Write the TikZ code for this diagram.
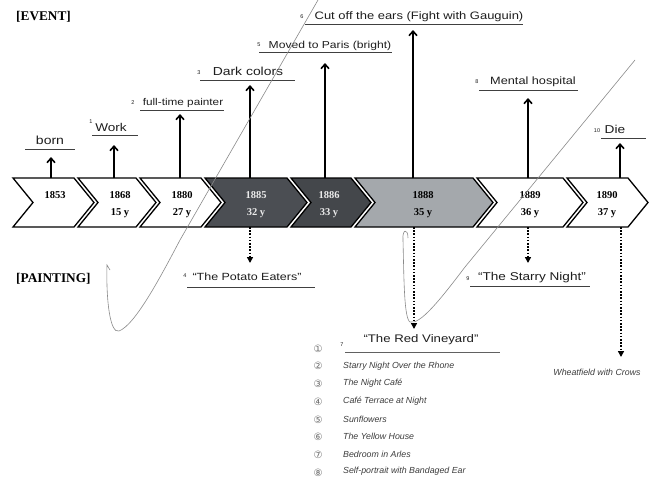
\documentclass[tikz,border=0pt]{standalone}
\usepackage{fontspec}
\usetikzlibrary{arrows.meta}
\newfontfamily\handf[FakeStretch=1.2]{Liberation Sans}
\newfontfamily\listfont{Liberation Sans}
\newfontfamily\serifb{Liberation Serif}
\newfontfamily\symf{DejaVu Sans}
\definecolor{darkA}{HTML}{4B4E53}
\definecolor{darkB}{HTML}{44474B}
\definecolor{greyC}{HTML}{A4A8AC}
\definecolor{inkc}{HTML}{1E1E1E}
\definecolor{listc}{HTML}{3C3C3C}
\definecolor{pencil}{HTML}{8A8A8A}
\tikzset{
  chevbox/.style={draw=black, line width=1.3pt, line join=miter},
  yearlbl/.style={font=\serifb\bfseries\fontsize{10.5}{11}\selectfont, inner sep=0pt},
  uparrow/.style={line width=1.6pt, -{Straight Barb[length=4.5pt,width=8pt,line width=1.6pt]}},
  downarrow/.style={line width=2pt, dash pattern=on 1.6pt off 1.6pt, -{Triangle[length=6pt,width=6pt]}},
  uline/.style={line width=1pt, draw=inkc!85},
  hand/.style={text=inkc, inner sep=0pt, anchor=base},
  tiny/.style={font=\listfont\fontsize{5.5}{6}\selectfont, text=inkc, inner sep=0pt},
  listitem/.style={font=\listfont\itshape\fontsize{8.8}{9}\selectfont, text=listc, inner sep=0pt, anchor=west},
  circnum/.style={font=\symf\fontsize{10}{10}\selectfont, text=listc!75, inner sep=0pt},
  heading/.style={font=\serifb\bfseries\fontsize{13.3}{14}\selectfont, inner sep=0pt, anchor=west},
  scribble/.style={draw=pencil, line width=0.6pt}
}
\newcommand\mychev[3]{%
  \draw[chevbox, fill=#3] (#1,178) -- (#2,178) -- ({#2+20},202.5) -- (#2,227) -- (#1,227) -- ({#1+20},202.5) -- cycle;}
\newcommand\hs[1]{\handf\fontsize{#1}{#1}\selectfont}
\begin{document}
\begin{tikzpicture}[x=1pt,y=-1pt]
\useasboundingbox (0,0) rectangle (659,480);
\fill[white] (0,0) rectangle (659,480);

% headings
\node[heading] (hev) at (16,17) {[EVENT]};
\node[heading] (hpa) at (16,279) {[PAINTING]};

% chevrons
\mychev{13}{74}{white}
\mychev{78}{136}{white}
\mychev{140}{201}{white}
\mychev{205}{287}{darkA}
\mychev{291}{351}{darkB}
\mychev{355}{473}{greyC}
\mychev{477}{563}{white}
\mychev{567}{628}{white}

% year labels
\node[yearlbl] (y1) at (55,195) {1853};
\node[yearlbl] (y2) at (120,195) {1868};
\node[yearlbl] (a2) at (120,213) {15 y};
\node[yearlbl] (y3) at (182,195) {1880};
\node[yearlbl] (a3) at (182,213) {27 y};
\node[yearlbl, text=white!92!black] (y4) at (256,195) {1885};
\node[yearlbl, text=white!92!black] (a4) at (256,213) {32 y};
\node[yearlbl, text=white!92!black] (y5) at (329,195) {1886};
\node[yearlbl, text=white!92!black] (a5) at (329,213) {33 y};
\node[yearlbl] (y6) at (423,195) {1888};
\node[yearlbl] (a6) at (423,213) {35 y};
\node[yearlbl] (y7) at (530,195) {1889};
\node[yearlbl] (a7) at (530,213) {36 y};
\node[yearlbl] (y8) at (607,195) {1890};
\node[yearlbl] (a8) at (607,213) {37 y};

% arrow anchor coordinates on chevron top/bottom
\coordinate (s1) at (51,178);
\coordinate (s2) at (114,178);
\coordinate (s3) at (180,178);
\coordinate (s4) at (250,178);
\coordinate (s5) at (325,178);
\coordinate (s6) at (413,178);
\coordinate (s7) at (528,178);
\coordinate (s8) at (620,178);
\coordinate (t1) at (51,157);
\coordinate (t2) at (114,145);
\coordinate (t3) at (180,114);
\coordinate (t4) at (250,85);
\coordinate (t5) at (325,63);
\coordinate (t6) at (413,30);
\coordinate (t7) at (528,98);
\coordinate (t8) at (620,143);
\foreach \i in {1,...,8} {\draw[uparrow] (s\i) -- (t\i);}

\coordinate (d4) at (250,227);
\coordinate (d6) at (414,227);
\coordinate (d7) at (528,227);
\coordinate (d8) at (621,227);
\coordinate (e4) at (250,263);
\coordinate (e6) at (414,329);
\coordinate (e7) at (528,263);
\coordinate (e8) at (621,357);
\foreach \i in {4,6,7,8} {\draw[downarrow] (d\i) -- (e\i);}

% event labels
\node[hand, font=\hs{11.7}] (born) at (50,144) {born};
\draw[uline] (25,149) -- (75,149);
\node[tiny] (n1) at (91,122) {1};
\node[hand, font=\hs{11.3}] (work) at (111,131) {Work};
\draw[uline] (92,135) -- (138,135);
\node[tiny] (n2) at (133,103) {2};
\node[hand, font=\hs{9.8}] (painter) at (183,105) {full-time painter};
\draw[uline] (140,110) -- (224,110);
\node[tiny] (n3) at (199,73) {3};
\node[hand, font=\hs{11.6}] (dark) at (248,75) {Dark colors};
\draw[uline] (200,80) -- (295,80);
\node[tiny] (n5) at (259,45) {5};
\node[hand, font=\hs{10.1}] (paris) at (330,48) {Moved to Paris (bright)};
\draw[uline] (259,52) -- (392,52);
\node[tiny] (n6) at (302,17) {6};
\node[hand, font=\hs{10.8}] (ears) at (419,19) {Cut off the ears (Fight with Gauguin)};
\draw[uline] (305,24) -- (523,24);
\node[tiny] (n8) at (477,82) {8};
\node[hand, font=\hs{10.6}] (mental) at (533,84) {Mental hospital};
\draw[uline] (479,90) -- (578,90);
\node[tiny] (n10) at (597,131) {10};
\node[hand, font=\hs{11.4}] (die) at (615,133) {Die};
\draw[uline] (601,138) -- (646,138);

% painting labels
\node[tiny] (n4) at (185,276) {4};
\node[hand, font=\hs{10.4}] (potato) at (247,280) {\char"201C The Potato Eaters\char"201D};
\draw[uline] (187,287) -- (315,287);
\node[tiny] (n9) at (468,279) {9};
\node[hand, font=\hs{11.3}] (starry) at (532,280) {\char"201C The Starry Night\char"201D};
\draw[uline] (470,286) -- (590,286);
\node[tiny] (n7) at (342,345) {7};
\node[hand, font=\hs{11}] (red) at (421,342) {\char"201C The Red Vineyard\char"201D};
\draw[uline, draw=inkc!70] (345,352) -- (500,352);

% list
\node[circnum] (c1) at (318,349) {①};
\node[circnum] (c2) at (318,366) {②};
\node[listitem] (l2) at (343,366) {Starry Night Over the Rhone};
\node[circnum] (c3) at (318,384) {③};
\node[listitem] (l3) at (343,383) {The Night Café};
\node[circnum] (c4) at (318,402) {④};
\node[listitem] (l4) at (343,401) {Café Terrace at Night};
\node[circnum] (c5) at (318,420) {⑤};
\node[listitem] (l5) at (343,419) {Sunflowers};
\node[circnum] (c6) at (318,437) {⑥};
\node[listitem] (l6) at (343,436) {The Yellow House};
\node[circnum] (c7) at (318,455) {⑦};
\node[listitem] (l7) at (343,454) {Bedroom in Arles};
\node[circnum] (c8) at (318,473) {⑧};
\node[listitem] (l8) at (343,471) {Self-portrait with Bandaged Ear};
\node[listitem, anchor=center] (wheat) at (597,372) {Wheatfield with Crows};

% pencil scribbles
\draw[scribble] (110,270) -- (107,265) .. controls (106,300) and (110,334) .. (119,331) .. controls (135,325) and (160,278) .. (180,240) -- (318,0);
\draw[scribble] (408,238) .. controls (408,228) and (402,229) .. (403,240) .. controls (404,280) and (404,318) .. (410,322) .. controls (420,325) and (440,300) .. (465,267) -- (635,60);
\end{tikzpicture}
\end{document}
